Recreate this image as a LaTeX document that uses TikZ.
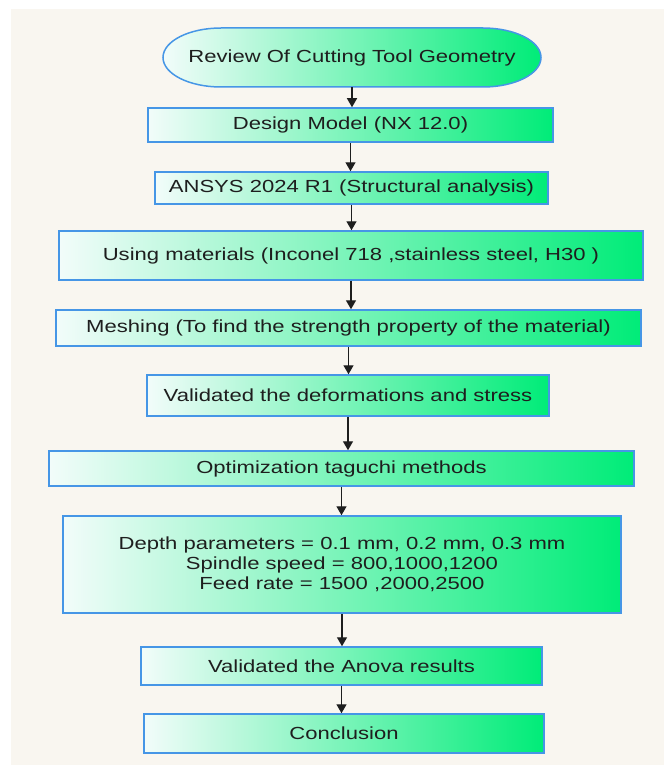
\documentclass[tikz,border=0pt]{standalone}
\usepackage{fontspec}
\setmainfont{Liberation Sans}[FakeStretch=1.26]
\usetikzlibrary{arrows.meta, positioning}
\definecolor{bgbeige}{RGB}{249,246,240}
\definecolor{boxblue}{RGB}{70,150,230}
\definecolor{flowgreen}{RGB}{0,236,120}
\definecolor{paleleft}{RGB}{242,252,250}
\definecolor{inkgray}{RGB}{30,30,30}

\begin{document}
\begin{tikzpicture}[
    x=1pt, y=-1pt,
    flowbox/.style={
        rectangle,
        draw=boxblue,
        line width=1.5pt,
        left color=paleleft,
        right color=flowgreen,
        inner sep=0pt,
        align=center,
        text=inkgray,
        font=\fontsize{17.5}{20}\selectfont
    },
    arrow/.style={line width=1.4pt, draw=inkgray, -{Triangle[length=9pt,width=10pt]}}
]
\useasboundingbox (0,0) rectangle (664,765);

% Background
\fill[bgbeige] (11,9) rectangle (664,765);

% Start terminal
\draw[boxblue, line width=1.5pt, left color=paleleft, right color=flowgreen]
    (221,28) -- (483,28)
    arc[start angle=90, end angle=-90, x radius=58pt, y radius=29.5pt]
    -- (221,87)
    arc[start angle=270, end angle=90, x radius=58pt, y radius=29.5pt] -- cycle;
\node[inner sep=0pt, minimum width=378, minimum height=59, text=inkgray,
      font=\fontsize{17.5}{20}\selectfont] (review) at (352,57.5)
    {Review Of Cutting Tool Geometry};

% Process steps
\node[flowbox, minimum width=405, minimum height=34] (design) at (350.5,125)
    {Design Model (NX 12.0)};
\node[flowbox, minimum width=393, minimum height=32] (ansys) at (351.5,188)
    {ANSYS 2024 R1 (Structural analysis)};
\node[flowbox, minimum width=584, minimum height=49] (materials) at (351,255.5)
    {Using materials (Inconel 718 ,stainless steel, H30 )};
\node[flowbox, minimum width=585, minimum height=36] (meshing) at (348.5,328)
    {Meshing (To find the strength property of the material)};
\node[flowbox, minimum width=402, minimum height=41] (validated) at (348,395.5)
    {Validated the deformations and stress};
\node[flowbox, minimum width=585, minimum height=35] (taguchi) at (341.5,468.5)
    {Optimization taguchi methods};
\node[flowbox, minimum width=558, minimum height=97] (params) at (342,564.5)
    {Depth parameters = 0.1 mm, 0.2 mm, 0.3 mm\\
     Spindle speed = 800,1000,1200\\
     Feed rate = 1500 ,2000,2500};
\node[flowbox, minimum width=401, minimum height=38] (anova) at (341.5,666)
    {Validated the Anova results};
\node[flowbox, minimum width=400, minimum height=39] (conclusion) at (344,733.5)
    {Conclusion};

% Arrows
\foreach \a/\b in {review/design, design/ansys, ansys/materials,
                   materials/meshing, meshing/validated, validated/taguchi,
                   taguchi/params, params/anova, anova/conclusion}
    \draw[arrow] (\a.south) -- (\a.south |- \b.north);

\end{tikzpicture}
\end{document}
